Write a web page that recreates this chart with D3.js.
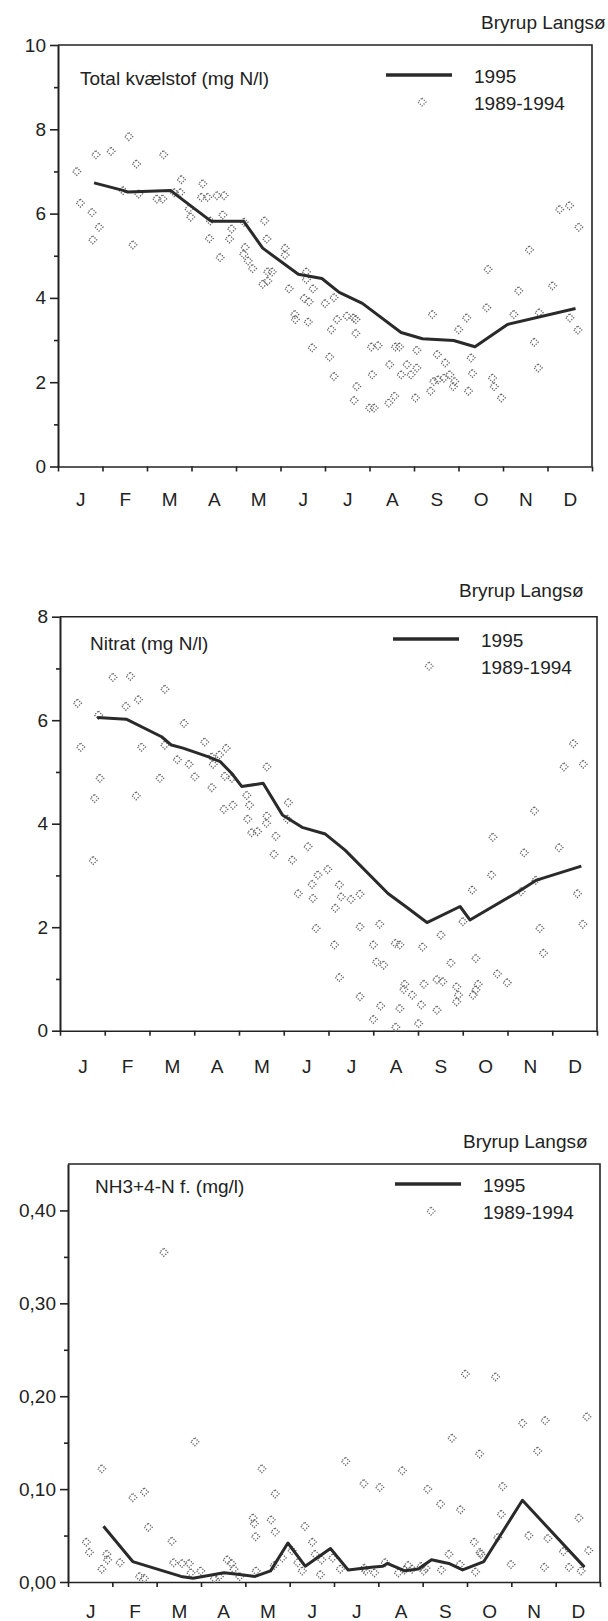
<!DOCTYPE html>
<html>
<head>
<meta charset="utf-8">
<script src="https://cdn.jsdelivr.net/npm/d3@7"></script>
<style>
  body { margin: 0; background: #fff; }
  svg text { font-family: "Liberation Sans", Arial, sans-serif; fill: #222; }
</style>
</head>
<body>
<div id="chart"></div>
<script>
// month labels on the x axis (month index 0..12)
const months = ["J", "F", "M", "A", "M", "J", "J", "A", "S", "O", "N", "D"];
const station = "Bryrup Langsø";
const legendNames = ["1995", "1989-1994"];

// panel 1: total nitrogen, [month, value]
const totalN1995 = [[0.81,6.73],[1.46,6.55],[1.57,6.51],[2.53,6.55],[2.65,6.45],[3.4,5.85],[3.45,5.82],[4.17,5.82],
  [4.6,5.18],[5.4,4.56],[5.93,4.46],[6.32,4.13],[6.84,3.87],[7.71,3.18],[8.19,3.03],[8.89,2.99],[9.37,2.84],
  [10.1,3.37],[11.63,3.75]];
const totalNOld = [[0.42,7.0],[0.5,6.25],[0.76,6.03],[0.92,5.68],[0.78,5.38],[0.85,7.4],[1.19,7.48],[1.59,7.83],
  [1.76,7.18],[1.68,5.26],[1.46,6.55],[1.81,6.47],[2.22,6.35],[2.35,6.35],[2.37,7.4],[2.61,6.5],[2.75,6.5],
  [2.77,6.81],[2.94,6.11],[2.98,5.92],[3.25,6.71],[3.22,6.39],[3.36,6.39],[3.57,6.43],[3.73,6.43],[3.7,5.97],
  [3.42,5.83],[3.4,5.41],[3.9,5.64],[3.85,5.4],[4.2,5.2],[4.17,5.04],[4.18,5.8],[4.64,5.83],[4.69,5.4],
  [5.1,5.18],[5.1,5.02],[3.64,4.96],[11.27,6.1],[11.49,6.19],[11.7,5.68],[10.59,5.14],
  [4.27,4.88],[4.37,4.7],[4.6,4.33],[4.71,4.4],[4.71,4.62],[4.81,4.62],[5.19,4.22],[5.32,3.61],[5.33,3.49],
  [5.58,4.62],[5.58,4.44],[5.53,3.99],[5.64,3.91],[5.62,3.43],[5.71,2.82],[5.73,4.22],[6.0,3.87],[6.2,4.01],
  [6.14,3.25],[6.1,2.6],[6.2,2.14],[6.27,3.49],[6.49,3.57],[6.64,3.53],[6.69,3.49],[6.69,3.16],[6.71,1.9],
  [6.65,1.57],[7.0,1.39],[7.1,1.39],[7.06,2.18],[7.04,2.84],[7.19,2.87],[7.45,2.42],[7.43,1.51],[7.56,1.67],
  [7.58,2.84],[7.67,2.84],[7.71,2.18],[7.84,2.42],[7.93,2.18],[8.06,2.34],[8.06,2.76],[8.03,1.63],[8.41,3.61],
  [8.52,2.66],[8.7,2.46],[8.37,1.79],[8.44,2.02],[8.54,2.06],[8.67,2.1],[8.8,2.18],[8.88,1.9],[8.91,2.02],
  [9.0,3.25],[9.18,3.53],[9.22,1.79],[9.28,2.58],[9.31,2.21],[9.66,4.68],[9.63,3.77],[9.76,2.1],[9.8,1.9],
  [9.96,1.63],[10.24,3.61],[10.35,4.17],[10.7,2.95],[10.79,2.34],[10.81,3.65],[11.11,4.29],[11.5,3.53],[11.68,3.24]];
const totalNTicks = [0, 2, 4, 6, 8, 10];
const totalNMinor = [1, 3, 5, 7, 9];

// panel 2: nitrate
const nitrat1995 = [[0.83,6.05],[1.48,6.02],[2.27,5.68],[2.49,5.52],[2.75,5.46],[3.32,5.29],[3.58,5.2],[3.84,4.97],
  [4.06,4.72],[4.54,4.78],[4.97,4.17],[5.41,3.93],[5.93,3.8],[6.37,3.49],[7.33,2.65],[7.77,2.37],[8.2,2.09],
  [8.94,2.4],[9.16,2.14],[10.25,2.69],[10.65,2.91],[11.65,3.18]];
const nitratOld = [[0.39,6.33],[0.46,5.48],[0.86,6.1],[0.89,4.88],[1.18,6.83],[1.57,6.85],[1.47,6.27],[1.75,6.4],
  [1.82,5.48],[2.23,4.88],[2.34,6.6],[2.34,5.52],[2.77,5.94],[2.62,5.24],[2.88,5.15],[3.01,4.91],[3.23,5.58],
  [3.39,5.29],[3.56,5.33],[3.71,5.46],[3.42,5.15],[3.39,4.7],[3.68,4.92],[3.84,4.88],[4.62,5.1],[11.47,5.55],
  [11.26,5.1],[11.69,5.15],
  [0.77,4.49],[0.74,3.29],[1.7,4.54],[3.66,4.28],[3.86,4.36],[4.17,4.55],[4.23,4.36],[4.19,4.09],[4.28,3.83],
  [4.41,3.85],[4.62,4.15],[4.61,4.01],[4.82,3.76],[4.78,3.41],[5.1,4.41],[5.08,4.09],[5.19,3.3],[5.54,3.56],
  [5.32,2.65],[5.63,2.83],[5.65,2.56],[5.76,3.01],[5.98,3.12],[5.72,1.98],[6.13,1.66],[6.15,2.37],[6.24,2.82],
  [6.28,2.59],[6.5,2.54],[6.7,2.64],[6.24,1.03],[6.7,2.01],[6.7,0.66],[7.0,1.66],[7.14,2.06],[7.07,1.33],
  [7.23,1.27],[7.16,0.48],[7.0,0.22],[7.49,1.69],[7.59,1.66],[7.5,0.07],[7.59,0.43],[7.7,0.9],[7.68,0.8],
  [7.87,0.69],[8.1,1.62],[8.13,0.9],[8.07,0.5],[8.01,0.14],[8.42,0.99],[8.55,0.95],[8.42,0.4],[8.51,1.85],
  [8.73,1.31],[8.86,0.85],[8.9,0.69],[8.86,0.56],[9.0,2.11],[9.21,2.72],[9.23,0.69],[9.29,0.79],[9.34,0.9],
  [9.29,1.4],[9.67,3.74],[9.64,3.01],[9.77,1.1],[9.99,0.93],[10.37,3.44],[10.6,4.25],[10.63,2.91],[10.72,1.98],
  [10.8,1.5],[11.15,3.54],[11.56,2.65],[11.68,2.06],[10.3,2.69]];
const nitratTicks = [0, 2, 4, 6, 8];
const nitratMinor = [1, 3, 5, 7];

// panel 3: ammonium
const ammon1995 = [[0.8,0.060],[1.46,0.022],[2.55,0.006],[2.82,0.004],[3.52,0.010],[3.87,0.008],[4.22,0.006],
  [4.57,0.012],[4.96,0.042],[5.35,0.017],[5.92,0.036],[6.32,0.013],[6.84,0.016],[7.1,0.017],[7.2,0.02],
  [7.6,0.012],[7.9,0.014],[8.2,0.024],[8.59,0.02],[8.9,0.013],[9.38,0.022],[10.25,0.088],[11.65,0.016]];
const ammonOld = [[2.16,0.355],[0.41,0.043],[0.48,0.032],[0.76,0.122],[0.76,0.014],[0.87,0.030],[0.89,0.024],
  [1.17,0.021],[1.46,0.091],[1.72,0.097],[1.61,0.006],[1.72,0.004],[1.81,0.059],[2.34,0.044],[2.38,0.021],
  [2.57,0.02],[2.73,0.02],[2.77,0.01],[2.86,0.151],[2.99,0.012],[3.3,0.004],[3.41,0.006],[3.59,0.024],
  [3.69,0.02],[3.74,0.014],[3.87,0.006],[4.17,0.069],[4.2,0.063],[4.23,0.049],[4.37,0.122],[4.24,0.012],
  [4.58,0.067],[4.67,0.095],[4.67,0.054],[4.65,0.018],[4.83,0.026],[5.05,0.034],[5.18,0.021],[5.28,0.012],
  [5.34,0.060],[5.51,0.043],[5.57,0.030],[5.69,0.008],[5.72,0.024],[5.97,0.026],[6.14,0.014],[6.26,0.130],
  [6.67,0.106],[6.68,0.015],[6.71,0.012],[6.91,0.01],[7.03,0.102],[7.15,0.021],[7.54,0.120],[7.45,0.01],
  [7.59,0.013],[7.67,0.018],[7.76,0.014],[7.96,0.017],[8.02,0.012],[8.07,0.015],[8.11,0.100],[8.4,0.084],
  [8.42,0.013],[8.59,0.030],[8.66,0.155],[8.85,0.078],[8.84,0.019],[8.96,0.224],[9.19,0.011],[9.28,0.138],
  [9.16,0.043],[9.29,0.032],[9.31,0.03],[9.64,0.221],[9.69,0.048],[9.77,0.073],[9.8,0.103],[9.99,0.019],
  [10.25,0.171],[10.39,0.050],[10.59,0.141],[10.76,0.174],[10.74,0.016],[10.82,0.047],[11.17,0.033],
  [11.3,0.016],[11.52,0.069],[11.57,0.012],[11.7,0.178],[11.74,0.034]];
const ammonTicks = [0, 0.1, 0.2, 0.3, 0.4];
const ammonMinor = [0.05, 0.15, 0.25, 0.35];

const W = 608, H = 1621;
const svg = d3.select("#chart").append("svg")
  .attr("width", W).attr("height", H);

const diamond = "M0,-4L4,0L0,4L-4,0Z";

// panel layout (positions in px)
const panels = [
  { title: "Total kvælstof (mg N/l)", line: totalN1995, pts: totalNOld, ticks: totalNTicks, minor: totalNMinor,
    ymax: 10, fmt: d3.format("d"),
    left: 58, right: 592, top: 45, bottom: 466.5,
    titleX: 80, titleY: 85, legX: 386, legY: 75, stationX: 481, stationY: 29, monthY: 506 },
  { title: "Nitrat (mg N/l)", line: nitrat1995, pts: nitratOld, ticks: nitratTicks, minor: nitratMinor,
    ymax: 8, fmt: d3.format("d"),
    left: 60, right: 597, top: 616.7, bottom: 1030.7,
    titleX: 90, titleY: 650, legX: 393, legY: 639, stationX: 459, stationY: 597, monthY: 1073 },
  { title: "NH3+4-N f. (mg/l)", line: ammon1995, pts: ammonOld, ticks: ammonTicks, minor: ammonMinor,
    ymax: 0.45, fmt: d => d3.format(".2f")(d).replace(".", ","),
    left: 68, right: 600, top: 1164, bottom: 1582,
    titleX: 95, titleY: 1193, legX: 395, legY: 1184, stationX: 463, stationY: 1148, monthY: 1618 }
];

panels.forEach(p => {
  const g = svg.append("g");
  const x = d3.scaleLinear().domain([0, 12]).range([p.left, p.right]);
  const y = d3.scaleLinear().domain([0, p.ymax]).range([p.bottom, p.top]);

  // frame: top and right
  g.append("path")
    .attr("d", `M${p.left},${p.top}H${p.right}V${p.bottom}`)
    .attr("fill", "none").attr("stroke", "#222").attr("stroke-width", 1.6);

  // y axis
  g.append("g").attr("transform", `translate(${p.left},0)`)
    .call(d3.axisLeft(y).tickValues(p.ticks).tickSize(8).tickPadding(4).tickSizeOuter(0).tickFormat(p.fmt));
  g.append("g").attr("transform", `translate(${p.left},0)`)
    .call(d3.axisLeft(y).tickValues(p.minor).tickSize(4).tickSizeOuter(0).tickFormat(""));

  // x axis: month boundaries + labels in the middle
  g.append("g").attr("transform", `translate(0,${p.bottom})`)
    .call(d3.axisBottom(x).tickValues(d3.range(13)).tickSize(5).tickSizeOuter(0).tickFormat(""));
  g.append("g").attr("transform", `translate(0,${p.monthY - 14})`)
    .call(d3.axisBottom(x).tickValues(d3.range(12).map(i => i + 0.5)).tickSize(0).tickPadding(0)
      .tickFormat((d, i) => months[i]))
    .call(a => a.select(".domain").remove());

  g.selectAll(".domain, .tick line").attr("stroke", "#222").attr("stroke-width", 1.6);
  g.selectAll(".tick text").attr("font-size", 19).attr("fill", "#222")
    .style("font-family", "'Liberation Sans', Arial, sans-serif");

  // scatter 1989-1994
  g.append("g").selectAll("path").data(p.pts).join("path")
    .attr("d", diamond)
    .attr("transform", d => `translate(${x(d[0])},${y(d[1])})`)
    .attr("fill", "none").attr("stroke", "#666").attr("stroke-width", 1.3)
    .attr("stroke-dasharray", "1.3,1.3");

  // 1995 line
  g.append("path").datum(p.line)
    .attr("d", d3.line().x(d => x(d[0])).y(d => y(d[1])))
    .attr("fill", "none").attr("stroke", "#2a2a2a").attr("stroke-width", 3)
    .attr("stroke-linejoin", "round");

  // texts
  g.append("text").attr("x", p.titleX).attr("y", p.titleY).attr("font-size", 19).text(p.title);
  g.append("text").attr("x", p.stationX).attr("y", p.stationY).attr("font-size", 19).text(station);

  // legend
  g.append("line").attr("x1", p.legX).attr("x2", p.legX + 66).attr("y1", p.legY).attr("y2", p.legY)
    .attr("stroke", "#2a2a2a").attr("stroke-width", 3.5);
  g.append("text").attr("x", p.legX + 88).attr("y", p.legY + 8).attr("font-size", 19).text(legendNames[0]);
  g.append("path").attr("d", diamond)
    .attr("transform", `translate(${p.legX + 36},${p.legY + 27})`)
    .attr("fill", "none").attr("stroke", "#777").attr("stroke-width", 1.3).attr("stroke-dasharray", "1.3,1.3");
  g.append("text").attr("x", p.legX + 88).attr("y", p.legY + 35).attr("font-size", 19).text(legendNames[1]);
});
</script>
</body>
</html>
